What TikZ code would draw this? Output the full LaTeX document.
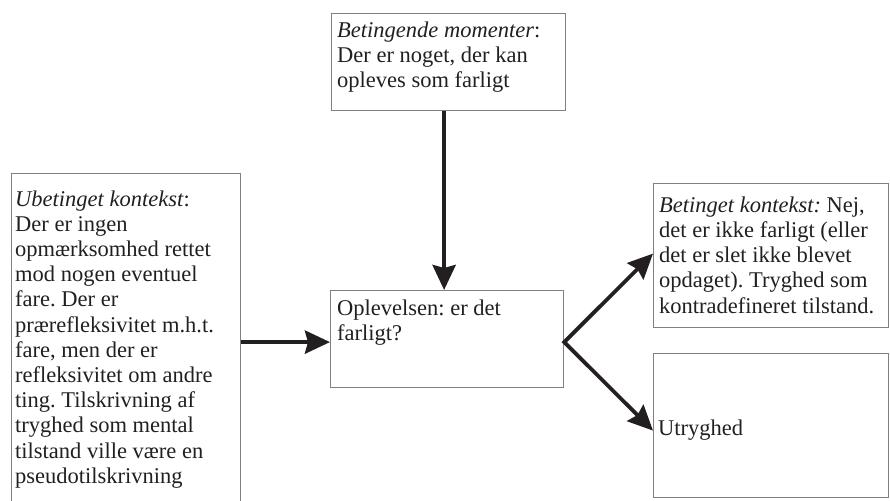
\documentclass[tikz,border=0pt]{standalone}
\usepackage{fontspec}
\setmainfont{Liberation Serif}
\usetikzlibrary{arrows.meta}

\definecolor{boxline}{HTML}{808080}
\definecolor{ink}{HTML}{231F20}

\tikzstyle{box}=[draw=boxline, line width=1.2pt, inner sep=0, anchor=north west]
\tikzstyle{txt}=[inner sep=0, anchor=north west, align=left, text=ink, font=\fontsize{22.5}{25.2}\selectfont]
\tikzstyle{flow}=[draw=ink, line width=4.2pt, -{Stealth[length=25pt,width=23pt,inset=3pt]}]
\tikzstyle{fork}=[draw=ink, line width=3.8pt, {Stealth[length=25pt,width=23pt,inset=3pt]}-{Stealth[length=25pt,width=23pt,inset=3pt]}]

\begin{document}
\frenchspacing
\begin{tikzpicture}[x=1pt,y=-1pt]
\useasboundingbox (0,0) rectangle (890,500);
\def\asc{15.5}

%   boxes
	\node[box, minimum width=229pt, minimum height=340pt] (kontekst) at (11,173) {};
	\node[box, minimum width=234pt, minimum height=97pt]  (moment)   at (331,13)  {};
	\node[box, minimum width=233pt, minimum height=97pt]  (oplevelse) at (330,290) {};
	\node[box, minimum width=235pt, minimum height=144pt] (betinget) at (653,183) {};
	\node[box, minimum width=235pt, minimum height=144pt] (utryg)    at (653,353) {};

%   texts
	\node[txt] (kontekst-tekst) at (15,205.7-\asc) {\textit{Ubetinget kontekst}:\\
		Der er ingen\\
		opmærksomhed rettet\\
		mod nogen eventuel\\
		fare. Der er\\
		prærefleksivitet m.h.t.\\
		fare, men der er\\
		refleksivitet om andre\\
		ting. Tilskrivning af\\
		tryghed som mental\\
		tilstand ville være en\\
		pseudotilskrivning};
	\node[txt] (moment-tekst) at (337,37-\asc) {\textit{Betingende momenter}:\\
		Der er noget, der kan\\
		opleves som farligt};
	\node[txt] (oplevelse-tekst) at (337,315-\asc) {Oplevelsen: er det\\
		farligt?};
	\node[txt] (betinget-tekst) at (659,212-\asc) {\textit{Betinget kontekst:} Nej,\\
		det er ikke farligt (eller\\
		det er slet ikke blevet\\
		opdaget). Tryghed som\\
		kontradefineret tilstand.};
	\node[txt] (utryg-tekst) at (658,435-\asc) {Utryghed};

%   arrows
	\draw[flow] ([xshift=-3pt]oplevelse.north |- moment.south) -- ([xshift=-3pt]oplevelse.north);
	\draw[flow] ([yshift=-3pt]kontekst.east |- oplevelse.west) -- ([yshift=-3pt]oplevelse.west);
	\draw[fork] ([yshift=2pt]betinget.west) -- ([yshift=-3pt]oplevelse.east) -- ([yshift=-5pt]utryg.west);

\end{tikzpicture}
\end{document}
